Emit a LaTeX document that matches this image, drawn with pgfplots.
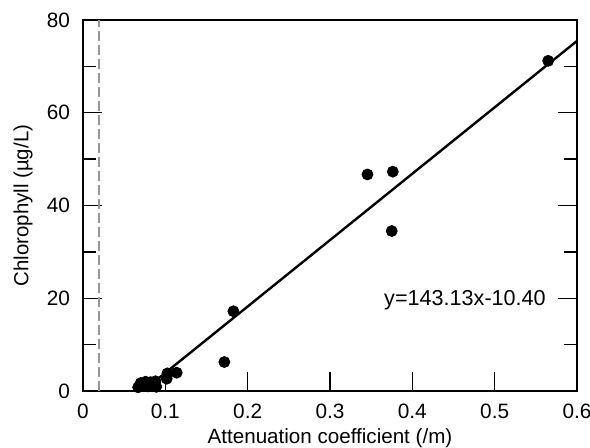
\documentclass[border=0pt]{standalone}
\usepackage{pgfplots}
\pgfplotsset{compat=1.18}
\usepackage{fontspec}
\setmainfont{Liberation Sans}
\definecolor{dashgray}{RGB}{150,150,150}
\begin{document}
\begin{tikzpicture}
\begin{axis}[
  name=main,
  at={(0,0)}, anchor=south west,
  scale only axis,
  width=247pt, height=185.5pt,
  xmin=0, xmax=0.6, ymin=0, ymax=80,
  xtick={0,0.1,0.2,0.3,0.4,0.5,0.6},
  xticklabels={0,0.1,0.2,0.3,0.4,0.5,0.6},
  xtick pos=left,
  ytick={0,20,40,60,80},
  minor ytick={10,30,50,70},
  ytick pos=both,
  tick align=inside,
  major tick length=9.5pt,
  minor tick length=6.5pt,
  tick style={black, line width=0.7pt},
  axis line style={line width=0.7pt},
  /pgf/number format/assume math mode=true,
  ticklabel style={font=\fontsize{10.4}{12}\selectfont},
  xticklabel style={yshift=-3.2pt},
  yticklabel style={xshift=-3pt},
  every axis x label/.style={at={(axis description cs:0.5,0)}, anchor=center, yshift=-23.5pt, font=\fontsize{10.3}{12}\selectfont},
  every axis y label/.style={at={(axis description cs:0,0.5)}, anchor=center, rotate=90, yshift=30pt, font=\fontsize{10.2}{12}\selectfont},
  xlabel={Attenuation coefficient (/m)},
  ylabel={Chlorophyll (\textmu g/L)},
  clip=false,
]
\addplot[dashgray, line width=1pt, dash pattern=on 5pt off 2pt] coordinates {(0.02,0) (0.02,80)};
\addplot[black, line width=1.2pt] coordinates {(0.0835,1.55) (0.6,75.48)};
\addplot[only marks, mark=*, mark size=2.75pt, black] coordinates {
(0.565,71.2) (0.3455,46.7) (0.3763,47.3) (0.375,34.5)
(0.1827,17.2) (0.1717,6.25) (0.1138,3.95) (0.1025,3.8) (0.1017,2.65)
(0.067,0.8) (0.070,1.7) (0.073,1.2) (0.076,2.0) (0.079,1.0)
(0.082,1.9) (0.085,1.3) (0.088,2.1) (0.089,0.9)
};
\node[font=\fontsize{10.8}{12}\selectfont] at (axis cs:0.464,19.6) {y=143.13x-10.40};
\end{axis}
\begin{axis}[
  at={(0,0)}, anchor=south west,
  scale only axis,
  width=247pt, height=185.5pt,
  xmin=0, xmax=0.6, ymin=0, ymax=80,
  axis lines=none,
  axis line style={draw=none},
  xtick={0.2,0.4},
  minor xtick={0.1,0.3,0.5},
  xtick pos=right,
  ytick=\empty,
  xticklabels={},
  tick align=inside,
  major tick length=9.5pt,
  minor tick length=6.5pt,
  tick style={black, line width=0.7pt},
]
\addplot[draw=none] coordinates {(0,0)};
\end{axis}
\pgfresetboundingbox
\useasboundingbox (-41.5pt,-28pt) rectangle (253.5pt,195.5pt);
\end{tikzpicture}
\end{document}
